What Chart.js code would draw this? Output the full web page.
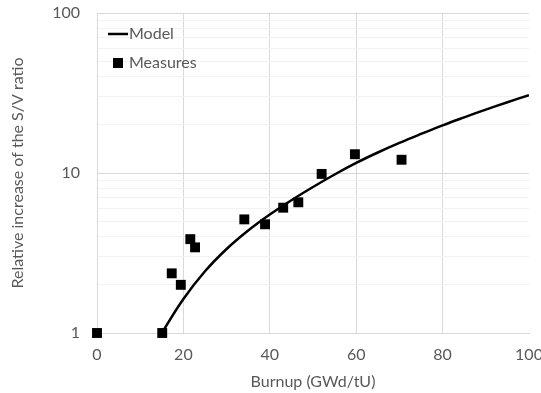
<!DOCTYPE html>
<html>
<head>
<meta charset="utf-8">
<script src="https://cdn.jsdelivr.net/npm/chart.js@4"></script>
<style>
html, body { margin: 0; padding: 0; background: #fff; overflow: hidden; }
#wrap { width: 541px; height: 393px; }
</style>
</head>
<body>
<div id="wrap"><canvas id="chart"></canvas></div>
<script>
// model curve
const modelX = [15, 20, 25, 30, 35, 40, 45, 50, 55, 60, 65, 70, 75, 80, 85, 90, 95, 100]
const modelY = [1, 1.63, 2.43, 3.35, 4.37, 5.5, 6.76, 8.18, 9.79, 11.56, 13.43, 15.42, 17.54, 19.86, 22.28, 24.89, 27.67, 30.69]

// measured points
const measureX = [0, 15.1, 17.3, 19.4, 21.6, 22.7, 34.1, 38.9, 43.1, 46.6, 52.0, 59.7, 70.5]
const measureY = [1, 1, 2.36, 2.0, 3.86, 3.43, 5.13, 4.78, 6.07, 6.56, 9.87, 13.1, 12.1]

const xTicks = [0, 20, 40, 60, 80, 100]
const yLabels = [1, 10, 100]

const grey = "#595959"
const font = "Lato"

const legendBox = {
	id: "legendBox",
	afterDraw(chart) {
		const ctx = chart.ctx
		const a = chart.chartArea
		const x = a.left + 11
		const y = a.top + 21
		ctx.save()
		ctx.font = "16px " + font
		ctx.textBaseline = "middle"
		ctx.strokeStyle = "#000"
		ctx.lineWidth = 2.5
		ctx.beginPath()
		ctx.moveTo(x, y)
		ctx.lineTo(x + 20, y)
		ctx.stroke()
		ctx.fillStyle = grey
		ctx.fillText("Model", x + 21, y)
		ctx.fillStyle = "#000"
		ctx.fillRect(x + 5, y + 24, 10, 10)
		ctx.fillStyle = grey
		ctx.fillText("Measures", x + 21, y + 29)
		ctx.restore()
	}
}

new Chart(document.getElementById("chart"), {
	type: "scatter",
	data: {
		datasets: [{
			label: "Model",
			data: modelX.map((x, i) => ({ x: x, y: modelY[i] })),
			showLine: true,
			borderColor: "#000",
			borderWidth: 2.5,
			pointRadius: 0,
			tension: 0.4,
			order: 2
		}, {
			label: "Measures",
			data: measureX.map((x, i) => ({ x: x, y: measureY[i] })),
			pointStyle: "rect",
			pointRadius: 7,
			backgroundColor: "#000",
			borderColor: "#000",
			borderWidth: 0,
			clip: false,
			order: 1
		}]
	},
	options: {
		responsive: true,
		maintainAspectRatio: false,
		animation: false,
		layout: { padding: { top: 13, right: 12, left: 0, bottom: 0 } },
		plugins: {
			legend: { display: false },
			tooltip: { enabled: false }
		},
		scales: {
			x: {
				type: "linear",
				min: 0,
				max: 100,
				afterBuildTicks: scale => { scale.ticks = xTicks.map(v => ({ value: v })) },
				afterFit: scale => {
					scale.height = 60
					scale.paddingLeft = 0
					scale.paddingRight = 0
				},
				ticks: { color: grey, font: { family: font, size: 16 }, padding: 12, maxRotation: 0 },
				grid: {
					color: c => c.tick && c.tick.value === 100 ? "rgba(0,0,0,0)" : "#d9d9d9",
					drawTicks: false
				},
				border: { color: "#d9d9d9" },
				title: { display: true, text: "Burnup (GWd/tU)", color: grey, font: { family: font, size: 16 }, padding: { top: 0, bottom: 2 } }
			},
			y: {
				type: "logarithmic",
				min: 1,
				max: 100,
				afterBuildTicks: scale => {
					const t = []
					for (let d = 1; d < 100; d *= 10) {
						for (let k = 1; k < 10; k++) t.push({ value: k * d })
					}
					t.push({ value: 100 })
					scale.ticks = t
				},
				afterFit: scale => {
					scale.width = 97
					scale.paddingTop = 0
					scale.paddingBottom = 0
				},
				ticks: {
					color: grey,
					font: { family: font, size: 16 },
					padding: 17,
					autoSkip: false,
					callback: v => yLabels.includes(v) ? String(v) : ""
				},
				grid: {
					color: c => c.tick && yLabels.includes(c.tick.value) ? "#d9d9d9" : "#f2f2f2",
					drawTicks: false
				},
				border: { color: "#d9d9d9" },
				title: { display: true, text: "Relative increase of the S/V ratio", color: grey, font: { family: font, size: 16 }, padding: { top: 8, bottom: 0 } }
			}
		}
	},
	plugins: [legendBox]
})
</script>
</body>
</html>
